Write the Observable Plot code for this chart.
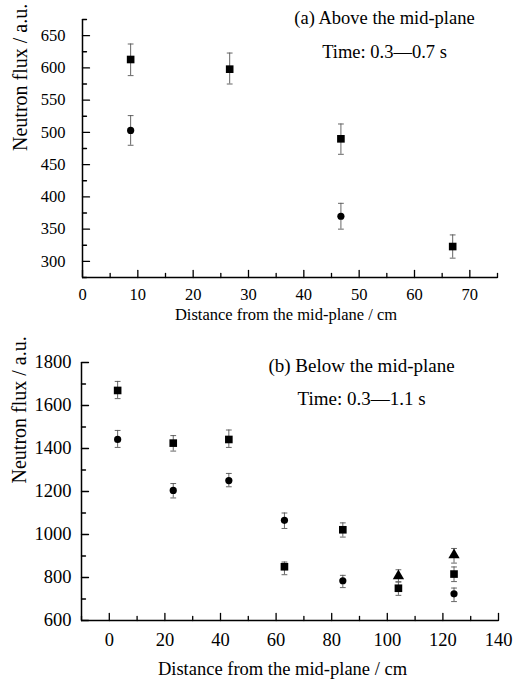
<!DOCTYPE html>
<html><head><meta charset="utf-8">
<script src="https://cdn.jsdelivr.net/npm/d3@7"></script>
<script src="https://cdn.jsdelivr.net/npm/@observablehq/plot@0.6"></script>
<style>body{margin:0;background:#fff;} svg{display:block;font-family:"Liberation Serif","Times New Roman",serif;} svg text{font-family:"Liberation Serif","Times New Roman",serif;}</style>
</head><body><div id="chart"></div>
<script>
// ---- Panel (a): above the mid-plane ----
const aboveSquareX  = [8.7, 26.6, 46.7, 66.9];
const aboveSquareY  = [613, 598, 490, 323];
const aboveSquareLo = [588, 575, 466, 305];
const aboveSquareHi = [637, 623, 513, 341];
const aboveCircleX  = [8.7, 46.7];
const aboveCircleY  = [503, 370];
const aboveCircleLo = [480, 350];
const aboveCircleHi = [526, 390];
const aboveXMajor = [0, 10, 20, 30, 40, 50, 60, 70];
const aboveXMinor = [5, 15, 25, 35, 45, 55, 65, 75];
const aboveYMajor = [300, 350, 400, 450, 500, 550, 600, 650];
const aboveYMinor = [275, 325, 375, 425, 475, 525, 575, 625, 675];

// ---- Panel (b): below the mid-plane ----
const belowSquareX  = [3, 23, 43, 63, 84, 104, 124];
const belowSquareY  = [1670, 1425, 1442, 850, 1022, 750, 816];
const belowSquareLo = [1632, 1388, 1405, 813, 988, 717, 781];
const belowSquareHi = [1712, 1460, 1486, 872, 1054, 779, 849];
const belowCircleX  = [3, 23, 43, 63, 84, 124];
const belowCircleY  = [1442, 1205, 1251, 1066, 785, 724];
const belowCircleLo = [1405, 1170, 1222, 1028, 753, 688];
const belowCircleHi = [1484, 1237, 1284, 1100, 810, 751];
const belowTriangleX  = [104, 124];
const belowTriangleY  = [807, 905];
const belowTriangleLo = [780, 867];
const belowTriangleHi = [836, 935];
const belowXMajor = [0, 20, 40, 60, 80, 100, 120, 140];
const belowXMinor = [-10, 10, 30, 50, 70, 90, 110, 130];
const belowYMajor = [600, 800, 1000, 1200, 1400, 1600, 1800];
const belowYMinor = [700, 900, 1100, 1300, 1500, 1700];

const yLabel = "Neutron flux / a.u.";
const xLabel = "Distance from the mid-plane / cm";

const FONT = "Liberation Serif";
const zip = (X, Y, L, H) => X.map((x, i) => ({x, y: Y[i], lo: L[i], hi: H[i]}));
const seg = {draw(c, l) { c.moveTo(0, 0); c.lineTo(0, -l); }};
const fmt = d => String(d);

function panel(o) {
  const [x0] = o.xDomain, [y0] = o.yDomain;
  const marks = [
    Plot.axisX(o.xMajor, {tickSize: 0, tickPadding: o.xTickPad, fontSize: o.tickFont, fontFamily: FONT, fontVariant: "normal", tickFormat: fmt, label: null}),
    Plot.axisY(o.yMajor, {tickSize: 0, tickPadding: o.yTickPad, fontSize: o.tickFont, fontFamily: FONT, fontVariant: "normal", tickFormat: fmt, label: null}),
    Plot.ruleY([y0], {strokeWidth: 1.5}),
    Plot.ruleX([x0], {strokeWidth: 1.5}),
    Plot.vector(o.xMajor, {x: d => d, y: () => y0, length: 7, rotate: 0, anchor: "start", shape: seg, strokeWidth: 1.3}),
    Plot.vector(o.xMinor, {x: d => d, y: () => y0, length: 4, rotate: 0, anchor: "start", shape: seg, strokeWidth: 1.3}),
    Plot.vector(o.yMajor, {x: () => x0, y: d => d, length: 7, rotate: 90, anchor: "start", shape: seg, strokeWidth: 1.3}),
    Plot.vector(o.yMinor, {x: () => x0, y: d => d, length: 4, rotate: 90, anchor: "start", shape: seg, strokeWidth: 1.3}),
  ];
  for (const s of o.series) {
    marks.push(
      Plot.ruleX(s.data, {x: "x", y1: "lo", y2: "hi", stroke: "#555", strokeWidth: 0.9}),
      Plot.vector(s.data, {x: "x", y: "lo", length: 5, rotate: 90, anchor: "middle", shape: seg, stroke: "#555", strokeWidth: 0.9}),
      Plot.vector(s.data, {x: "x", y: "hi", length: 5, rotate: 90, anchor: "middle", shape: seg, stroke: "#555", strokeWidth: 0.9}),
      Plot.dot(s.data, {x: "x", y: "y", symbol: s.symbol, r: s.r, fill: "black", stroke: "none"})
    );
  }
  marks.push(
    Plot.text([o.title], {text: d => d, frameAnchor: "top", dx: o.titleDx, dy: o.titleDy1, fontSize: o.titleFont, fontFamily: FONT, lineAnchor: "middle"}),
    Plot.text([o.time], {text: d => d, frameAnchor: "top", dx: o.titleDx, dy: o.titleDy2, fontSize: o.titleFont, fontFamily: FONT, lineAnchor: "middle"}),
    Plot.text([xLabel], {text: d => d, frameAnchor: "bottom", dx: o.xLabelDx, dy: o.xLabelDy, fontSize: o.xLabelFont, fontFamily: FONT, lineAnchor: "middle"}),
    Plot.text([yLabel], {text: d => d, frameAnchor: "left", rotate: -90, dx: o.yLabelDx, dy: o.yLabelDy, fontSize: o.yLabelFont, fontFamily: FONT, lineAnchor: "middle"})
  );
  return Plot.plot({
    width: 513, height: o.height,
    marginTop: o.m[0], marginRight: o.m[1], marginBottom: o.m[2], marginLeft: o.m[3],
    style: {fontFamily: FONT, background: "white", color: "black"},
    x: {domain: o.xDomain},
    y: {domain: o.yDomain},
    marks
  });
}

const panelA = panel({
  height: 330, m: [19, 16, 53, 82],
  xDomain: [0, 75], yDomain: [275, 675],
  xMajor: aboveXMajor, xMinor: aboveXMinor, yMajor: aboveYMajor, yMinor: aboveYMinor,
  tickFont: 16.5, xTickPad: 11, yTickPad: 17,
  series: [
    {data: zip(aboveSquareX, aboveSquareY, aboveSquareLo, aboveSquareHi), symbol: "square", r: 4.3},
    {data: zip(aboveCircleX, aboveCircleY, aboveCircleLo, aboveCircleHi), symbol: "circle", r: 3.6}
  ],
  title: "(a) Above the mid-plane", time: "Time: 0.3\u20140.7 s",
  titleDx: 94.5, titleDy1: -1, titleDy2: 33, titleFont: 18.5,
  xLabelDx: -4, xLabelDy: 37, xLabelFont: 16.5,
  yLabelDx: -62, yLabelDy: 2.5, yLabelFont: 20
});

const panelB = panel({
  height: 349, m: [32, 15, 59, 81],
  xDomain: [-10, 140], yDomain: [600, 1800],
  xMajor: belowXMajor, xMinor: belowXMinor, yMajor: belowYMajor, yMinor: belowYMinor,
  tickFont: 18.5, xTickPad: 12, yTickPad: 10,
  series: [
    {data: zip(belowSquareX, belowSquareY, belowSquareLo, belowSquareHi), symbol: "square", r: 4.3},
    {data: zip(belowCircleX, belowCircleY, belowCircleLo, belowCircleHi), symbol: "circle", r: 3.6},
    {data: zip(belowTriangleX, belowTriangleY, belowTriangleLo, belowTriangleHi), symbol: "triangle", r: 4.2}
  ],
  title: "(b) Below the mid-plane", time: "Time: 0.3\u20141.1 s",
  titleDx: 71.5, titleDy1: 3, titleDy2: 36, titleFont: 19,
  xLabelDx: -7.5, xLabelDy: 49, xLabelFont: 18.5,
  yLabelDx: -62, yLabelDy: -8, yLabelFont: 20
});

const root = document.getElementById("chart");
root.appendChild(panelA);
root.appendChild(panelB);
</script>
</body></html>
